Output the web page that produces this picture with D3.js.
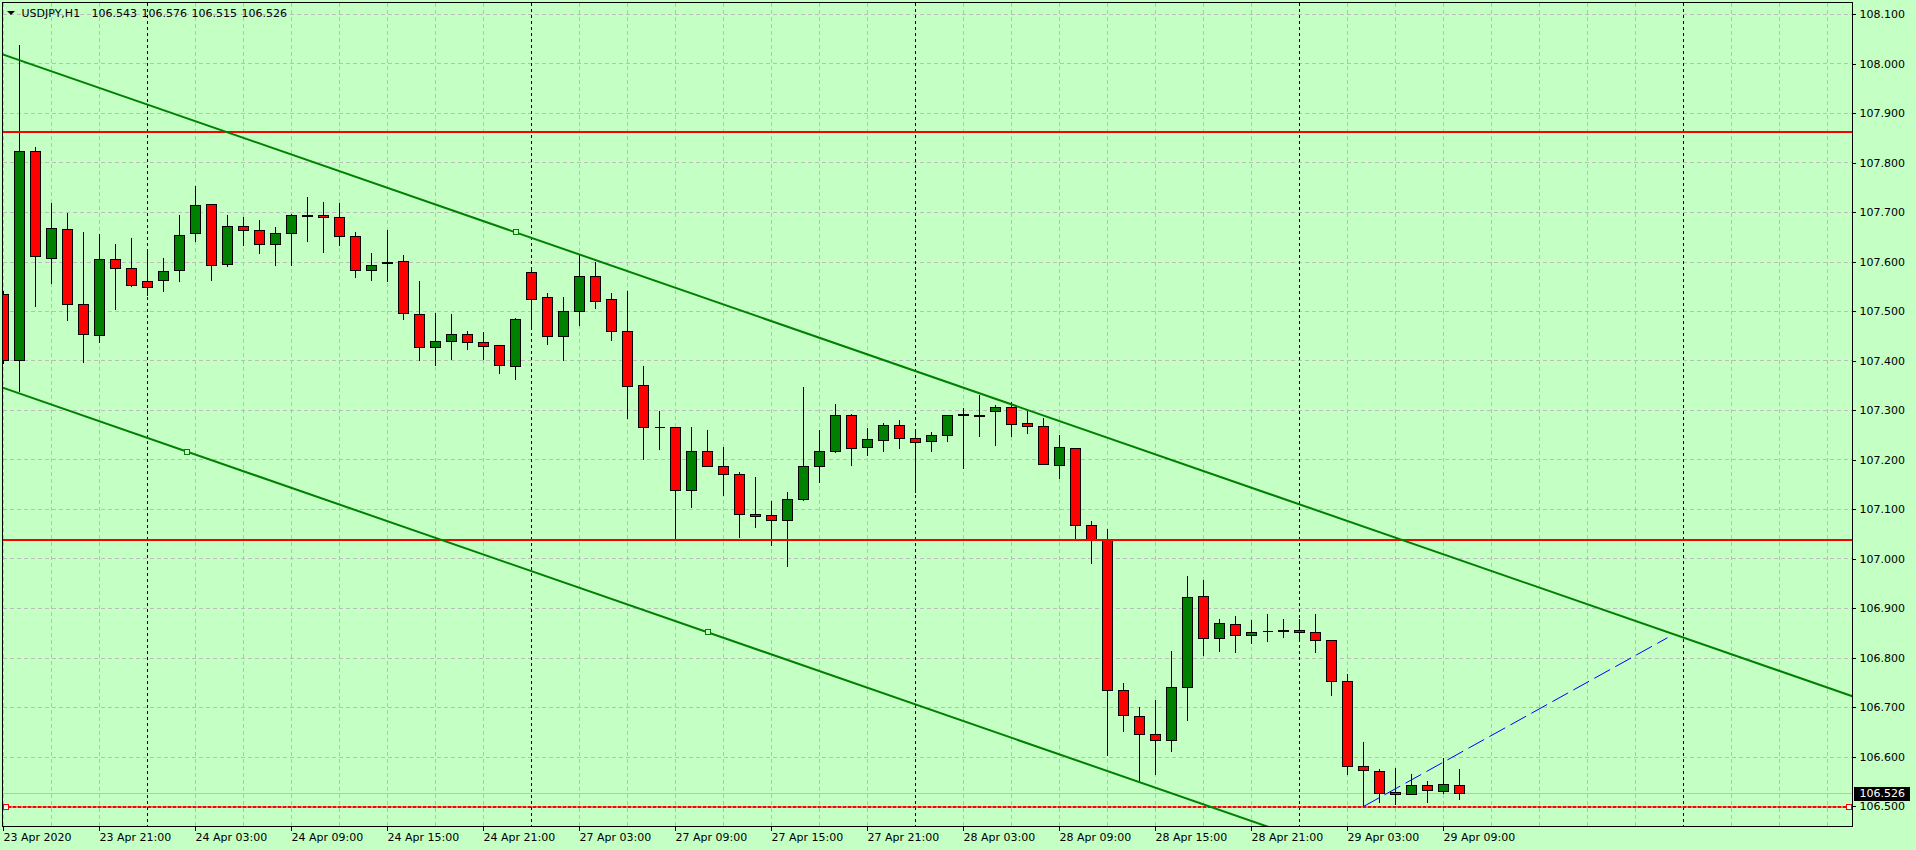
<!DOCTYPE html>
<html>
<head>
<meta charset="utf-8">
<script src="https://cdn.jsdelivr.net/npm/d3@7"></script>
<style>
  html, body { margin: 0; padding: 0; background: #c4ffc4; overflow: hidden; }
  svg { display: block; }
  text { font-family: "DejaVu Sans", sans-serif; font-size: 11px; fill: #000; }
</style>
</head>
<body>
<div class="chart"></div>
<script>
// USDJPY H1 candles, 23 Apr 2020 15:00 .. 29 Apr 2020 10:00
let symbol = "USDJPY,H1";

let open = [107.534, 107.400, 107.823, 107.608, 107.665, 107.514, 107.451, 107.606, 107.586, 107.560,
  107.562, 107.582, 107.657, 107.716, 107.594, 107.671, 107.663, 107.635, 107.657, 107.693,
  107.693, 107.689, 107.651, 107.582, 107.596, 107.602, 107.493, 107.427, 107.439, 107.453,
  107.437, 107.431, 107.388, 107.578, 107.528, 107.449, 107.499, 107.570, 107.524, 107.459,
  107.350, 107.265, 107.265, 107.138, 107.217, 107.186, 107.170, 107.089, 107.087, 107.077,
  107.120, 107.186, 107.217, 107.289, 107.225, 107.239, 107.269, 107.243, 107.237, 107.249,
  107.291, 107.290, 107.297, 107.307, 107.273, 107.267, 107.188, 107.223, 107.067, 107.037,
  106.734, 106.681, 106.645, 106.633, 106.740, 106.924, 106.839, 106.867, 106.845, 106.853,
  106.853, 106.855, 106.851, 106.835, 106.752, 106.580, 106.570, 106.528, 106.524, 106.542,
  106.530, 106.543];

let high = [107.542, 108.039, 107.833, 107.720, 107.700, 107.662, 107.657, 107.637, 107.650, 107.627,
  107.609, 107.696, 107.755, 107.718, 107.696, 107.691, 107.686, 107.671, 107.697, 107.732,
  107.722, 107.720, 107.661, 107.619, 107.666, 107.615, 107.562, 107.497, 107.495, 107.461,
  107.460, 107.433, 107.488, 107.591, 107.538, 107.530, 107.617, 107.601, 107.538, 107.542,
  107.390, 107.301, 107.266, 107.268, 107.261, 107.227, 107.176, 107.167, 107.118, 107.136,
  107.348, 107.261, 107.314, 107.293, 107.265, 107.275, 107.281, 107.263, 107.257, 107.291,
  107.307, 107.332, 107.312, 107.318, 107.299, 107.286, 107.252, 107.224, 107.077, 107.061,
  106.750, 106.703, 106.716, 106.815, 106.966, 106.958, 106.880, 106.886, 106.877, 106.890,
  106.880, 106.880, 106.890, 106.837, 106.768, 106.631, 106.576, 106.578, 106.566, 106.552,
  106.598, 106.576];

let low = [107.395, 107.338, 107.511, 107.557, 107.482, 107.396, 107.438, 107.505, 107.550, 107.533,
  107.541, 107.561, 107.642, 107.563, 107.591, 107.634, 107.618, 107.592, 107.592, 107.642,
  107.620, 107.634, 107.569, 107.563, 107.561, 107.484, 107.400, 107.390, 107.404, 107.424,
  107.403, 107.374, 107.363, 107.465, 107.434, 107.400, 107.472, 107.507, 107.441, 107.284,
  107.202, 107.222, 107.039, 107.105, 107.186, 107.129, 107.044, 107.064, 107.028, 106.985,
  107.118, 107.155, 107.216, 107.188, 107.210, 107.218, 107.224, 107.134, 107.218, 107.237,
  107.183, 107.248, 107.230, 107.248, 107.254, 107.190, 107.163, 107.037, 106.991, 106.604,
  106.651, 106.553, 106.565, 106.611, 106.673, 106.806, 106.814, 106.812, 106.830, 106.834,
  106.842, 106.834, 106.812, 106.725, 106.564, 106.501, 106.509, 106.505, 106.524, 106.509,
  106.526, 106.515];

let close = [107.400, 107.823, 107.611, 107.667, 107.514, 107.453, 107.606, 107.586, 107.552, 107.548,
  107.580, 107.653, 107.714, 107.592, 107.671, 107.663, 107.635, 107.657, 107.693, 107.692,
  107.689, 107.651, 107.582, 107.592, 107.600, 107.495, 107.427, 107.439, 107.453, 107.437,
  107.430, 107.390, 107.483, 107.524, 107.449, 107.501, 107.570, 107.520, 107.459, 107.348,
  107.265, 107.265, 107.138, 107.217, 107.186, 107.170, 107.089, 107.085, 107.077, 107.120,
  107.186, 107.217, 107.289, 107.223, 107.241, 107.269, 107.243, 107.235, 107.249, 107.289,
  107.290, 107.288, 107.307, 107.272, 107.267, 107.190, 107.225, 107.067, 107.037, 106.734,
  106.683, 106.645, 106.633, 106.740, 106.922, 106.839, 106.869, 106.845, 106.851, 106.853,
  106.855, 106.851, 106.835, 106.752, 106.580, 106.572, 106.526, 106.524, 106.542, 106.532,
  106.544, 106.526];

// time axis (bar index -> label)
let tickBars = [0, 6, 12, 18, 24, 30, 36, 42, 48, 54, 60, 66, 72, 78, 84, 90];
let tickLabels = ["23 Apr 2020", "23 Apr 21:00", "24 Apr 03:00", "24 Apr 09:00", "24 Apr 15:00",
  "24 Apr 21:00", "27 Apr 03:00", "27 Apr 09:00", "27 Apr 15:00", "27 Apr 21:00",
  "28 Apr 03:00", "28 Apr 09:00", "28 Apr 15:00", "28 Apr 21:00", "29 Apr 03:00", "29 Apr 09:00"];
// day separators (first bar of each day)
let dayBars = [9, 33, 57, 81, 105];

let priceTicks = [106.5, 106.6, 106.7, 106.8, 106.9, 107.0, 107.1, 107.2,
  107.3, 107.4, 107.5, 107.6, 107.7, 107.8, 107.9, 108.0, 108.1];

// objects on the chart
let redLevels = [107.862, 107.038];
let supportLevel = 106.500;
let channelBase = [{ bar: 11.46, price: 107.217 }, { bar: 44, price: 106.852 }];
let channelTop = { bar: 32, price: 107.660 };
let blueLine = [{ bar: 85, price: 106.500 }, { bar: 104, price: 106.841 }];

let svgWidth = 1916;
let svgHeight = 850;
let plot = { left: 2.5, top: 2.5, right: 1852.5, bottom: 826.5 };

let bg = "#c4ffc4";
let gridColor = "#bcbcbc";

let svg = d3.select(".chart").append("svg")
  .attr("width", svgWidth)
  .attr("height", svgHeight);

svg.append("rect")
  .attr("width", svgWidth).attr("height", svgHeight)
  .attr("fill", bg);

// scales
let x = d3.scaleLinear().domain([0, 115]).range([3.5, 3.5 + 16 * 115]);
let y = d3.scaleLinear().domain([106.5, 108.1]).range([806.5, 14.5]);

let snap = v => Math.round(v - 0.5) + 0.5;

svg.append("clipPath").attr("id", "plotClip")
  .append("rect")
  .attr("x", plot.left + 0.5).attr("y", plot.top + 0.5)
  .attr("width", plot.right - plot.left - 1)
  .attr("height", plot.bottom - plot.top - 1);

let chart = svg.append("g").attr("clip-path", "url(#plotClip)");

// grid
let gridBars = d3.range(0, 116, 3).filter(b => dayBars.indexOf(b) < 0);
chart.append("g").selectAll("line.hgrid")
  .data(priceTicks).enter().append("line")
  .attr("x1", plot.left).attr("x2", plot.right)
  .attr("y1", d => snap(y(d))).attr("y2", d => snap(y(d)))
  .attr("stroke", gridColor).attr("stroke-dasharray", "4,3")
  .attr("shape-rendering", "crispEdges");

chart.append("g").selectAll("line.vgrid")
  .data(gridBars).enter().append("line")
  .attr("x1", d => x(d)).attr("x2", d => x(d))
  .attr("y1", plot.top).attr("y2", plot.bottom)
  .attr("stroke", gridColor).attr("stroke-dasharray", "4,3")
  .attr("shape-rendering", "crispEdges");

// period separators
chart.append("g").selectAll("line")
  .data(dayBars).enter().append("line")
  .attr("x1", d => x(d)).attr("x2", d => x(d))
  .attr("y1", plot.top).attr("y2", plot.bottom)
  .attr("stroke", "#000").attr("stroke-dasharray", "3,3")
  .attr("shape-rendering", "crispEdges");

// bid line
let last = close.length - 1;
chart.append("line")
  .attr("x1", plot.left).attr("x2", plot.right)
  .attr("y1", snap(y(close[last]))).attr("y2", snap(y(close[last])))
  .attr("stroke", "#c0c0c0")
  .attr("shape-rendering", "crispEdges");

// candles
let bars = open.map((o, i) => ({ i: i, o: o, h: high[i], l: low[i], c: close[i] }));

let candles = chart.append("g").selectAll("g")
  .data(bars).enter().append("g")
  .attr("shape-rendering", "crispEdges");

candles.append("line")
  .attr("x1", d => x(d.i)).attr("x2", d => x(d.i))
  .attr("y1", d => snap(y(d.h))).attr("y2", d => snap(y(d.l)))
  .attr("stroke", "#000");

candles.each(function (d) {
  let g = d3.select(this);
  let top = snap(y(Math.max(d.o, d.c)));
  let bot = snap(y(Math.min(d.o, d.c)));
  if (bot - top < 1) {
    g.append("line")
      .attr("x1", x(d.i) - 5).attr("x2", x(d.i) + 5)
      .attr("y1", top).attr("y2", top)
      .attr("stroke", "#000");
  } else {
    g.append("rect")
      .attr("x", x(d.i) - 5).attr("width", 10)
      .attr("y", top).attr("height", bot - top)
      .attr("fill", d.c >= d.o ? "#008000" : "#ff0000")
      .attr("stroke", "#000");
  }
});

// horizontal levels
chart.append("g").selectAll("line")
  .data(redLevels).enter().append("line")
  .attr("x1", plot.left).attr("x2", plot.right)
  .attr("y1", d => Math.round(y(d))).attr("y2", d => Math.round(y(d)))
  .attr("stroke", "#ff0000").attr("stroke-width", 2);

chart.append("line")
  .attr("x1", plot.left).attr("x2", plot.right)
  .attr("y1", Math.round(y(supportLevel))).attr("y2", Math.round(y(supportLevel)))
  .attr("stroke", "#ff0000").attr("stroke-width", 2)
  .attr("stroke-dasharray", "4,1");

// equidistant channel
let slope = (channelBase[1].price - channelBase[0].price) / (channelBase[1].bar - channelBase[0].bar);
let b0 = x.invert(plot.left), b1 = x.invert(plot.right);
let lineAt = (p, b) => p.price + slope * (b - p.bar);

chart.append("g").selectAll("line")
  .data([channelBase[0], channelTop]).enter().append("line")
  .attr("x1", x(b0)).attr("x2", x(b1))
  .attr("y1", d => y(lineAt(d, b0))).attr("y2", d => y(lineAt(d, b1)))
  .attr("stroke", "#008000").attr("stroke-width", 2);

// blue dashed trend line
chart.append("line")
  .attr("x1", x(blueLine[0].bar)).attr("y1", y(blueLine[0].price))
  .attr("x2", x(blueLine[1].bar)).attr("y2", y(blueLine[1].price))
  .attr("stroke", "#0000ff").attr("stroke-dasharray", "18,6");

// anchor squares
let anchors = channelBase.concat([channelTop]);
chart.append("g").selectAll("rect")
  .data(anchors).enter().append("rect")
  .attr("x", d => Math.round(x(d.bar)) - 2.5).attr("y", d => Math.round(y(d.price)) - 2.5)
  .attr("width", 5).attr("height", 5)
  .attr("fill", bg).attr("stroke", "#008000")
  .attr("shape-rendering", "crispEdges");

chart.append("g").selectAll("rect")
  .data([plot.left + 3, plot.right - 4]).enter().append("rect")
  .attr("x", d => Math.round(d) - 2.5).attr("y", Math.round(y(supportLevel)) - 2.5)
  .attr("width", 5).attr("height", 5)
  .attr("fill", "#ffffff").attr("stroke", "#ff0000")
  .attr("shape-rendering", "crispEdges");

// frame
svg.append("rect")
  .attr("x", plot.left).attr("y", plot.top)
  .attr("width", plot.right - plot.left).attr("height", plot.bottom - plot.top)
  .attr("fill", "none").attr("stroke", "#000")
  .attr("shape-rendering", "crispEdges");

// price axis
let rightAxis = d3.axisRight(y)
  .tickValues(priceTicks)
  .tickFormat(d3.format(".3f"))
  .tickSize(3).tickPadding(4)
  .offset(0);

let yAxis = svg.append("g")
  .attr("transform", `translate(${plot.right}, 0)`)
  .call(rightAxis);
yAxis.select(".domain").remove();
yAxis.selectAll("line").attr("stroke", "#000").attr("shape-rendering", "crispEdges");
yAxis.selectAll("text").attr("font-family", "DejaVu Sans").attr("font-size", 11).attr("fill", "#000");

// time axis
let bottomAxis = d3.axisBottom(x)
  .tickValues(tickBars)
  .tickFormat((d, i) => tickLabels[i])
  .tickSize(4).tickPadding(3)
  .offset(0);

let xAxis = svg.append("g")
  .attr("transform", `translate(0, ${plot.bottom})`)
  .call(bottomAxis);
xAxis.select(".domain").remove();
xAxis.selectAll("line").attr("stroke", "#000").attr("shape-rendering", "crispEdges");
xAxis.selectAll("text")
  .attr("text-anchor", "start")
  .attr("font-family", "DejaVu Sans").attr("font-size", 11).attr("fill", "#000");

// bid price label
let bidY = snap(y(close[last]));
svg.append("rect")
  .attr("x", 1854).attr("y", bidY - 6.5)
  .attr("width", 56).attr("height", 14)
  .attr("fill", "#000");
svg.append("text")
  .attr("x", plot.right + 7).attr("y", bidY)
  .attr("dy", "0.32em")
  .style("fill", "#fff")
  .text(d3.format(".3f")(close[last]));

// header
svg.append("path")
  .attr("d", "M7,11 L15,11 L11,15 Z")
  .attr("fill", "#000");
svg.append("text")
  .attr("x", 21.5).attr("y", 17)
  .text(symbol);
let ohlc = [open[last], high[last], low[last], close[last]];
svg.append("g").selectAll("text")
  .data(ohlc).enter().append("text")
  .attr("x", (d, i) => 91.5 + 50 * i).attr("y", 17)
  .text(d => d3.format(".3f")(d));
</script>
</body>
</html>
